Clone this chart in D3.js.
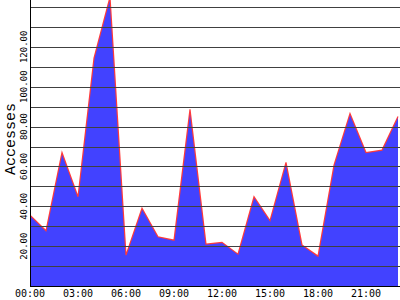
<!DOCTYPE html>
<html>
<head>
<meta charset="utf-8">
<script src="https://cdn.jsdelivr.net/npm/d3@7"></script>
<style>
  html, body { margin: 0; padding: 0; background: #fff; }
  svg { display: block; }
</style>
</head>
<body>
<div id="chart"></div>
<script>
// hourly accesses
const hours = ['00:00', '01:00', '02:00', '03:00', '04:00', '05:00', '06:00', '07:00',
  '08:00', '09:00', '10:00', '11:00', '12:00', '13:00', '14:00', '15:00',
  '16:00', '17:00', '18:00', '19:00', '20:00', '21:00', '22:00', '23:00'];
const accesses = [35.6, 27.7, 67, 44.8, 114.4, 145, 15.5, 39, 24.7, 23, 88.6, 21,
  21.9, 16, 44.8, 32.8, 62, 20.6, 15, 60.7, 86.6, 67, 68.2, 85];
const hourTicks = ['00:00', '03:00', '06:00', '09:00', '12:00', '15:00', '18:00', '21:00'];
const gridValues = [10, 20, 30, 40, 50, 60, 70, 80, 90, 100, 110, 120, 130, 140];
const labelValues = [20, 40, 60, 80, 100, 120];

const width = 400;
const height = 300;
const left = 30;
const bottom = 286;

const svg = d3.select('#chart').append('svg').attr('width', width).attr('height', height);

const x = d3.scalePoint().domain(hours).range([left, 398]);
const y = d3.scaleLinear().domain([0, 140]).range([bottom, 7]);

const clip = svg.append('defs').append('clipPath').attr('id', 'plot-clip');
clip.append('rect').attr('x', left).attr('y', 0).attr('width', width - left).attr('height', bottom);

const plot = svg.append('g').attr('clip-path', 'url(#plot-clip)');

// blue area first, grid goes over it
const area = d3.area()
  .x((d, i) => x(hours[i]))
  .y0(y(0))
  .y1(d => y(d));

plot.append('path')
  .datum(accesses)
  .attr('d', area)
  .style('fill', '#4242ff')
  .style('shape-rendering', 'crispEdges');

const grid = svg.append('g')
  .call(d3.axisLeft(y).tickValues(gridValues).tickSize(-(width - left)).tickFormat(''))
  .attr('transform', `translate(${left},0)`);
grid.select('.domain').remove();
grid.selectAll('line')
  .style('stroke', '#404040')
  .style('stroke-width', 1)
  .style('shape-rendering', 'crispEdges');

const line = d3.line()
  .x((d, i) => x(hours[i]))
  .y(d => y(d));

plot.append('path')
  .datum(accesses)
  .attr('d', line)
  .style('fill', 'none')
  .style('stroke', '#ff3a3a')
  .style('stroke-width', 1.2);

// axis lines
svg.append('line')
  .attr('x1', left + 0.5).attr('x2', left + 0.5)
  .attr('y1', 0).attr('y2', bottom + 1)
  .style('stroke', '#000');
svg.append('line')
  .attr('x1', left).attr('x2', width)
  .attr('y1', bottom + 0.5).attr('y2', bottom + 0.5)
  .style('stroke', '#000');

// y tick labels, rotated
svg.selectAll('.ylabel')
  .data(labelValues)
  .enter()
  .append('text')
  .attr('class', 'ylabel')
  .attr('transform', d => `translate(27,${y(d)}) rotate(-90)`)
  .attr('text-anchor', 'middle')
  .style('font-family', 'DejaVu Sans Mono, monospace')
  .style('font-size', '9px')
  .style('fill', '#000')
  .text(d => d.toFixed(2));

// x tick labels
svg.selectAll('.xlabel')
  .data(hourTicks)
  .enter()
  .append('text')
  .attr('class', 'xlabel')
  .attr('x', d => x(d))
  .attr('y', 297)
  .attr('text-anchor', 'middle')
  .style('font-family', 'DejaVu Sans Mono, monospace')
  .style('font-size', '10px')
  .style('fill', '#000')
  .text(d => d);

svg.append('text')
  .attr('transform', 'translate(15,139) rotate(-90)')
  .attr('text-anchor', 'middle')
  .style('font-family', 'Liberation Mono, monospace')
  .style('font-size', '15px')
  .style('fill', '#000')
  .text('Accesses');
</script>
</body>
</html>
